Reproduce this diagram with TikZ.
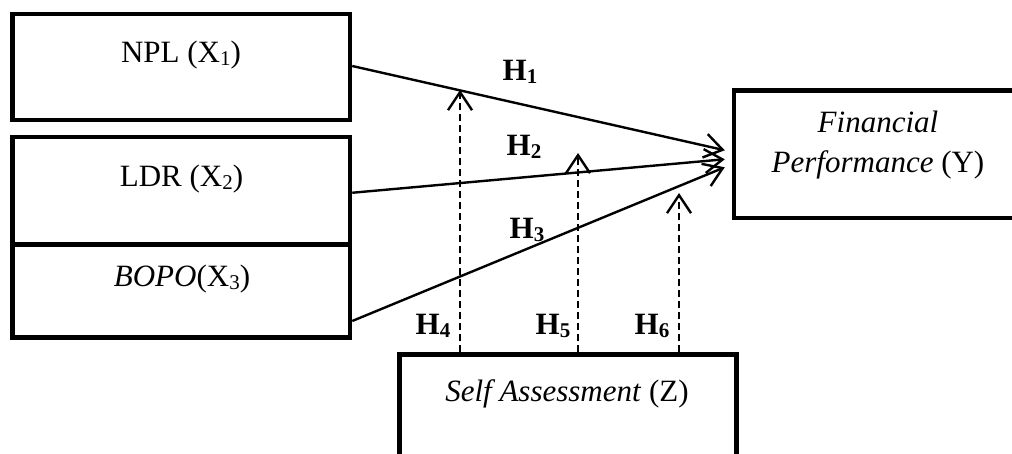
\documentclass[tikz,border=0pt]{standalone}
\usepackage{fontspec}
\setmainfont{Liberation Serif}[
  ItalicFont={Liberation Serif Italic},
  BoldFont={Liberation Serif Bold}]
\usetikzlibrary{arrows.meta}

\newcommand\bigfs{\fontsize{31}{37}\selectfont}
\newcommand\sbsc[1]{\raisebox{-3pt}{\fontsize{21}{21}\selectfont #1}}

\begin{document}
\begin{tikzpicture}[x=1pt, y=-1pt,
  box/.style={draw, line width=4.5pt, inner sep=0pt},
  lbl/.style={anchor=base, inner sep=0pt, font=\bigfs},
  hyp/.style={anchor=base, inner sep=0pt, font=\bigfs\bfseries},
  link/.style={line width=2.4pt, -{Straight Barb[length=18pt,width=24pt,line width=2.4pt]}},
  modlink/.style={link, dash pattern=on 7pt off 4pt}]

  \useasboundingbox (0,0) rectangle (1012,453);
  \clip (0,0) rectangle (1012,453);

  % independent variables
  \node[box, minimum width=337.5pt, minimum height=106pt]   (x1) at (181.25,67) {};
  \node[box, minimum width=337.5pt, minimum height=107.5pt] (x2) at (181.25,190.75) {};
  \node[box, minimum width=337.5pt, minimum height=93pt]    (x3) at (181.25,291) {};
  \node[lbl] (x1t) at (181,62.7) {NPL (X\sbsc{1})};
  \node[lbl] (x2t) at (181.5,186.5) {LDR (X\sbsc{2})};
  \node[lbl] (x3t) at (182,286.5) {\textit{BOPO}(X\sbsc{3})};

  % dependent variable
  \node[box, minimum width=296pt, minimum height=127.5pt] (y) at (882,154.25) {};
  \node[lbl] (yt1) at (878,132) {\textit{Financial}};
  \node[lbl] (yt2) at (878,172) {\textit{Performance} (Y)};

  % moderating variable
  \node[box, minimum width=337pt, minimum height=115.5pt] (z) at (568,412.25) {};
  \node[lbl] (zt) at (567,401) {\textit{Self Assessment} (Z)};

  % arrow end points
  \coordinate (ya) at ([xshift=-7pt,yshift=4pt]y.west);
  \coordinate (yb) at ([xshift=-7pt,yshift=-5pt]y.west);
  \coordinate (yc) at ([xshift=-7pt,yshift=-13pt]y.west);
  \coordinate (m4) at (460,90);
  \coordinate (m5) at (578,153);
  \coordinate (m6) at (679,193);

  % direct effects
  \draw[link] ([yshift=1pt]x1.east)   -- (ya);
  \draw[link] ([yshift=-2pt]x2.east)  -- (yb);
  \draw[link] ([yshift=-30pt]x3.east) -- (yc);

  % moderation effects
  \draw[modlink] ([xshift=-108pt]z.north) -- (m4);
  \draw[modlink] ([xshift=10pt]z.north)   -- (m5);
  \draw[modlink] ([xshift=111pt]z.north)  -- (m6);

  % hypothesis labels
  \node[hyp] (h1) at (520,80.5) {H\sbsc{1}};
  \node[hyp] (h2) at (524,155) {H\sbsc{2}};
  \node[hyp] (h3) at (527,238) {H\sbsc{3}};
  \node[hyp] (h4) at (433,334) {H\sbsc{4}};
  \node[hyp] (h5) at (553,334) {H\sbsc{5}};
  \node[hyp] (h6) at (652,334) {H\sbsc{6}};
\end{tikzpicture}
\end{document}
